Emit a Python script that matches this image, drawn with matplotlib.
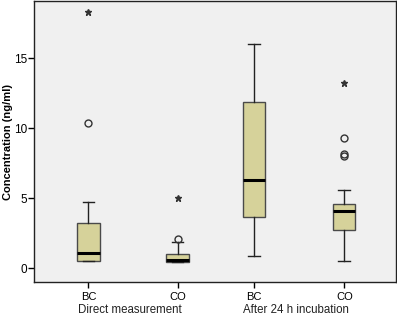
import matplotlib
matplotlib.use("Agg")
import matplotlib.pyplot as plt

plt.rcParams['font.family'] = ['Liberation Sans', 'DejaVu Sans']

# Data (ng/ml)
categories = ["BC", "CO", "BC", "CO"]
groups = ["Direct measurement", "After 24 h incubation"]
whislo = [0.5, 0.45, 0.86, 0.5]
q1 = [0.5, 0.45, 3.62, 2.74]
med = [1.07, 0.55, 6.33, 4.05]
q3 = [3.2, 1.0, 11.9, 4.57]
whishi = [4.7, 1.83, 16.05, 5.6]
outliers_circle = [[10.4], [2.05], [], [9.3, 8.17, 8.0]]
outliers_star = [[18.3], [5.0], [], [13.2]]

positions = [1.0, 2.0, 2.86, 3.87]
yticks = [0, 5, 10, 15]

fig = plt.figure(figsize=(3.97, 3.16), dpi=100)
ax = fig.add_axes([34/397, 34/316, 362/397, 281/316])
ax.set_facecolor('#f0f0f0')

stats = []
for i in range(4):
    stats.append(dict(med=med[i], q1=q1[i], q3=q3[i], whislo=whislo[i],
                      whishi=whishi[i], fliers=[]))

ax.bxp(stats, positions=positions, widths=0.25, patch_artist=True,
       showfliers=False,
       boxprops=dict(facecolor='#d6d29a', edgecolor='#4a4a4a', linewidth=1.0),
       medianprops=dict(color='black', linewidth=2.2),
       whiskerprops=dict(color='#222222', linewidth=1.0),
       capprops=dict(color='#222222', linewidth=1.0),
       capwidths=0.13)

for p, vals in zip(positions, outliers_circle):
    if vals:
        ax.plot([p]*len(vals), vals, 'o', mfc='none', mec='#333333', ms=5, mew=1.0)
for p, vals in zip(positions, outliers_star):
    if vals:
        ax.plot([p]*len(vals), vals, '*', color='#333333', ms=5)

ax.set_xlim(0.39, 4.45)
ax.set_ylim(-1.0, 19.1)
ax.set_yticks(yticks)
ax.set_xticks(positions)
ax.set_xticklabels(categories, fontsize=8)
ax.tick_params(axis='y', labelsize=8.5, length=4, width=1, pad=1)
ax.tick_params(axis='x', length=4, width=1, pad=3)
for s in ax.spines.values():
    s.set_linewidth(1.0)
    s.set_color('#222222')

ax.set_ylabel('Concentration (ng/ml)', fontsize=8, fontweight='bold')
ax.yaxis.set_label_coords(-0.058, 0.5)

for gi, g in enumerate(groups):
    cx = (positions[2*gi] + positions[2*gi+1]) / 2
    ax.text(cx - 0.04, -0.098, g, transform=ax.get_xaxis_transform(), ha='center',
            va='center', fontsize=8.3, color='#222222')

fig.savefig('out.png', dpi=100)
